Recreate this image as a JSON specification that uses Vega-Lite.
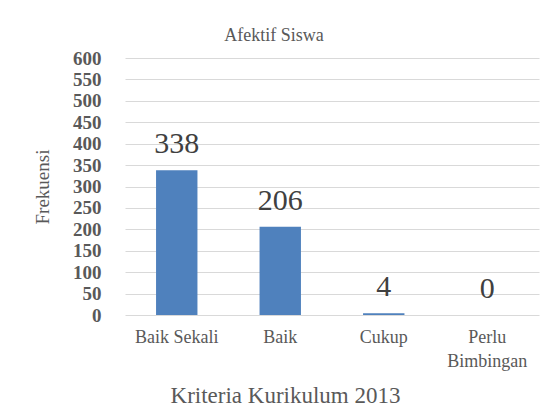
{
  "$schema": "https://vega.github.io/schema/vega-lite/v6.json",
  "autosize": "none",
  "width": 394,
  "height": 257,
  "padding": {"left": 119, "top": 58, "right": 35, "bottom": 103},
  "background": "white",
  "title": {"text": "Afektif Siswa", "font": "Liberation Serif", "fontSize": 18, "fontWeight": "normal", "color": "#595959", "anchor": "middle", "dx": -42, "offset": 4},
  "data": {"values": [
    {"kriteria": "Baik Sekali", "frekuensi": 338},
    {"kriteria": "Baik", "frekuensi": 206},
    {"kriteria": "Cukup", "frekuensi": 4},
    {"kriteria": "Perlu Bimbingan", "frekuensi": 0}
  ]},
  "encoding": {
    "x": {"field": "kriteria", "type": "nominal", "sort": null,
      "scale": {"range": [6, 420], "paddingInner": 0.6, "paddingOuter": 0.3},
      "axis": {"title": "Kriteria Kurikulum 2013", "labelAngle": 0, "ticks": false, "domain": false,
        "labelExpr": "datum.label == 'Perlu Bimbingan' ? ['Perlu', 'Bimbingan'] : datum.label",
        "labelFont": "Liberation Serif", "labelFontSize": 18, "labelColor": "#595959", "labelPadding": 13, "labelLineHeight": 24,
        "titleFont": "Liberation Serif", "titleFontSize": 23, "titleFontWeight": "normal", "titleColor": "#595959", "titlePadding": 14, "titleX": 166}},
    "y": {"field": "frekuensi", "type": "quantitative",
      "scale": {"domain": [0, 600]},
      "axis": {"title": "Frekuensi", "values": [0,50,100,150,200,250,300,350,400,450,500,550,600], "ticks": false, "domain": false,
        "gridColor": "#d9d9d9", "gridWidth": 1,
        "labelFont": "Liberation Serif", "labelFontSize": 19, "labelFontWeight": "bold", "labelColor": "#595959", "labelPadding": 18,
        "titleFont": "Liberation Serif", "titleFontSize": 19, "titleFontWeight": "normal", "titleColor": "#595959", "titlePadding": 20}}
  },
  "layer": [
    {"mark": {"type": "bar", "color": "#4f81bd"}},
    {"mark": {"type": "text", "baseline": "alphabetic", "dy": -17, "font": "Liberation Serif", "fontSize": 30, "color": "#404040"},
     "encoding": {"text": {"field": "frekuensi", "type": "quantitative"}}}
  ],
  "config": {"view": {"stroke": null}}
}
